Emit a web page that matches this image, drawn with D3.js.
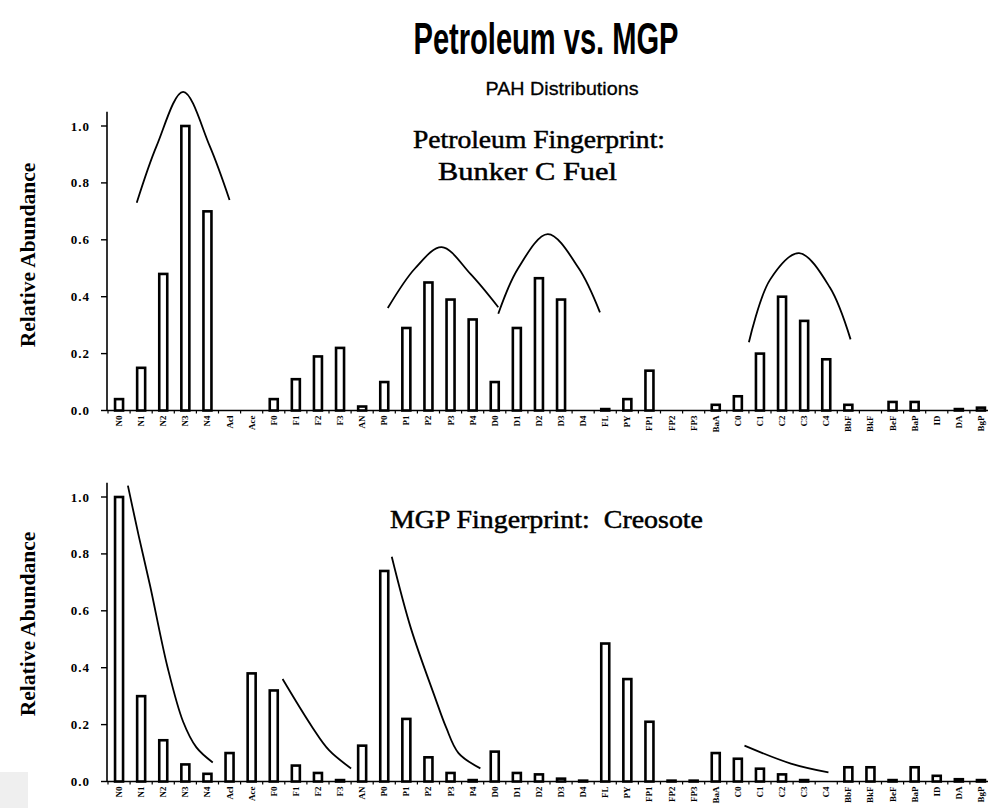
<!DOCTYPE html>
<html><head><meta charset="utf-8">
<script src="https://cdn.jsdelivr.net/npm/d3@7"></script>
<style>body{margin:0;background:#fff}svg{display:block}</style>
</head><body>
<script>
// ---------- data ----------
const categories = ["N0","N1","N2","N3","N4","Acl","Ace","F0","F1","F2","F3","AN","P0","P1","P2","P3","P4","D0","D1","D2","D3","D4","FL","PY","FP1","FP2","FP3","BaA","C0","C1","C2","C3","C4","BbF","BkF","BeF","BaP","ID","DA","BgP"];
const petroleum = [0.04,0.15,0.48,1.0,0.70,0,0,0.04,0.11,0.19,0.22,0.014,0.10,0.29,0.45,0.39,0.32,0.10,0.29,0.465,0.39,0,0.005,0.04,0.14,0,0,0.02,0.05,0.20,0.40,0.315,0.18,0.02,0,0.03,0.03,0,0.005,0.01];
const creosote = [1.0,0.30,0.145,0.06,0.027,0.10,0.38,0.32,0.056,0.03,0.005,0.126,0.74,0.22,0.085,0.03,0.005,0.105,0.03,0.025,0.01,0.003,0.485,0.36,0.21,0.003,0.003,0.10,0.08,0.045,0.025,0.005,0,0.05,0.05,0.005,0.05,0.02,0.008,0.005];
const yTicks = [0,0.2,0.4,0.6,0.8,1.0];
// hand-drawn envelope curves: [category index, relative abundance]
const petroleumCurves = [
  [[0.8,0.73],[1.7,0.93],[2.9,1.12],[4.1,0.93],[5.0,0.74]],
  [[12.16,0.36],[13.4,0.50],[14.6,0.574],[15.9,0.48],[17.16,0.363]],
  [[17.16,0.34],[18.06,0.50],[19.4,0.62],[20.8,0.50],[21.76,0.345]],
  [[28.5,0.24],[29.46,0.46],[30.77,0.553],[32.16,0.433],[33.1,0.25]]
];
const creosoteCurves = [
  [[0.4,1.04],[0.9,0.86],[1.4,0.69],[2.2,0.40],[2.9,0.21],[3.5,0.12],[4.24,0.067]],
  [[7.4,0.36],[8.75,0.19],[9.5,0.11],[10.5,0.046]],
  [[12.34,0.79],[13.2,0.54],[14.3,0.295],[14.8,0.19],[15.36,0.10],[16.35,0.046]],
  [[28.3,0.126],[30.4,0.063],[32.1,0.032]]
];

const W = 988, H = 808;
const svg = d3.select("body").append("svg").attr("width", W).attr("height", H);
const serif = "'Liberation Serif','Times New Roman',serif";
const sans = "'Liberation Sans',Arial,sans-serif";

// background artifact box bottom-left
svg.append("rect").attr("x",0).attr("y",772).attr("width",28).attr("height",36).attr("fill","#efefef");

// titles
svg.append("text").attr("x",546).attr("y",54).attr("text-anchor","middle")
  .attr("font-family",sans).attr("font-weight","bold").attr("font-size",44)
  .attr("textLength",265).attr("lengthAdjust","spacingAndGlyphs").text("Petroleum vs. MGP");
svg.append("text").attr("x",562).attr("y",95).attr("text-anchor","middle")
  .attr("font-family",sans).attr("font-size",19).attr("stroke","#000").attr("stroke-width",0.3)
  .attr("textLength",153).attr("lengthAdjust","spacingAndGlyphs").text("PAH Distributions");

const x = d3.scaleBand().domain(categories).range([108, 108 + categories.length * 22.1]).paddingInner(0).paddingOuter(0);
const px = i => x(categories[0]) + (i + 0.5) * x.step();

function panel(values, curves, y0, y1, labelY, notes) {
  const y = d3.scaleLinear().domain([0, 1]).range([y0, y1]);
  const g = svg.append("g");
  // y axis
  g.append("line").attr("x1",107).attr("x2",107).attr("y1",y(0)).attr("y2",y(1.05))
    .attr("stroke","#000").attr("stroke-width",1.6);
  yTicks.forEach(t => {
    g.append("line").attr("x1",101).attr("x2",107).attr("y1",y(t)).attr("y2",y(t)).attr("stroke","#000").attr("stroke-width",1.4);
    g.append("text").attr("x",90).attr("y",y(t)+4.5).attr("text-anchor","end")
      .attr("font-family",serif).attr("font-weight","bold").attr("font-size",13)
      .attr("letter-spacing",1).text(t.toFixed(1));
  });
  // x axis
  g.append("line").attr("x1",107).attr("x2",W).attr("y1",y(0)).attr("y2",y(0)).attr("stroke","#000").attr("stroke-width",1.6);
  categories.forEach((c, i) => {
    const bx = x(c);
    g.append("line").attr("x1",bx).attr("x2",bx).attr("y1",y(0)).attr("y2",y(0)+3).attr("stroke","#000").attr("stroke-width",1.2);
    g.append("text").attr("transform",`translate(${bx + x.bandwidth()/2 + 3},${y(0)+5}) rotate(-90)`)
      .attr("text-anchor","end").attr("font-family",serif).attr("font-weight","bold").attr("font-size",9)
      .text(c);
  });
  // bars
  g.selectAll("rect.bar").data(values.map((v,i)=>({c:categories[i],v}))).enter()
    .filter(d => d.v > 0)
    .append("rect").attr("class","bar")
    .attr("x", d => x(d.c) + x.bandwidth()/2 - 4)
    .attr("width", 8)
    .attr("y", d => y(d.v))
    .attr("height", d => Math.max(0.5, y(0) - y(d.v)))
    .attr("fill","#fff").attr("stroke","#000").attr("stroke-width",2.6);
  // curves
  const line = d3.line().x(d => px(d[0])).y(d => y(d[1])).curve(d3.curveCatmullRom.alpha(0.5));
  curves.forEach(cv => g.append("path").attr("d", line(cv)).attr("fill","none").attr("stroke","#000").attr("stroke-width",1.8));
  // y label
  g.append("text").attr("transform",`translate(35,${labelY}) rotate(-90)`).attr("text-anchor","middle")
    .attr("font-family",serif).attr("font-weight","bold").attr("font-size",21.5).text("Relative Abundance");
  notes.forEach(n => g.append("text").attr("x",n.x).attr("y",n.y).attr("font-family",serif)
    .attr("font-size",26).attr("stroke","#000").attr("stroke-width",0.5)
    .style("white-space","pre")
    .attr("textLength",n.w).attr("lengthAdjust","spacingAndGlyphs").text(n.t));
}

panel(petroleum, petroleumCurves, 410.5, 126, 255,
  [{t:"Petroleum Fingerprint:", x:413, y:148, w:252},{t:"Bunker C Fuel", x:438, y:180, w:179}]);
panel(creosote, creosoteCurves, 781.5, 497, 624,
  [{t:"MGP Fingerprint:  Creosote", x:390, y:528, w:313}]);
</script>
</body></html>
